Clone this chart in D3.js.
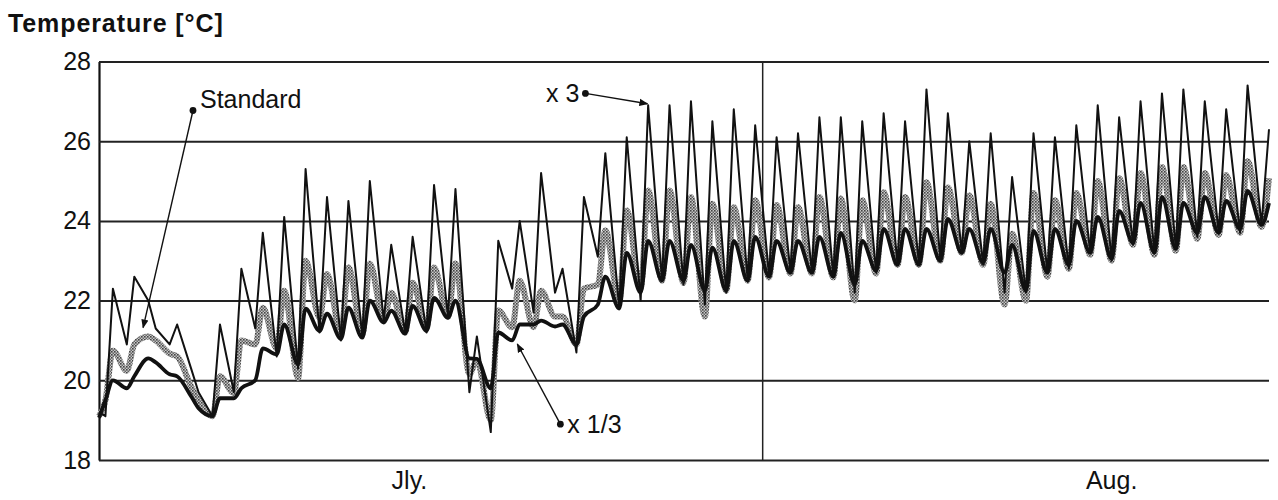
<!DOCTYPE html>
<html>
<head>
<meta charset="utf-8">
<script src="https://cdn.jsdelivr.net/npm/d3@7.9.0/dist/d3.min.js"></script>
<style>
  body { margin: 0; background: #fff; }
  svg { font-family: "Liberation Sans", Arial, Helvetica, sans-serif; }
</style>
</head>
<body>
<svg id="chart" width="1278" height="500"></svg>
<script>
// day 0 = 1 July. Each day is sampled twice: morning low and afternoon high.
const yTicks = [18, 20, 22, 24, 26, 28];
const months = [{ label: "Jly.", day: 14.5 }, { label: "Aug.", day: 47.3 }];
const augustStart = 31;
const lastDay = 54.65;

const startValues = { x3: 19.2, standard: 19.1, third: 19.06 };

const x3Low = [
  19.1, 20.9, 22.0, 20.9, 20.3, 19.1, 19.7, 21.3, 20.6, 20.3,
  21.2, 21.0, 21.1, 21.5, 21.2, 21.2, 21.6, 19.7, 18.7, 22.3,
  21.7, 22.2, 20.7, 23.1, 21.8, 22.0, 22.5, 22.4, 21.9, 22.2,
  22.5, 22.6, 22.7, 22.7, 22.6, 22.2, 22.7, 22.9, 22.9, 23.0,
  23.2, 22.9, 22.2, 22.2, 22.7, 22.8, 23.2, 23.0, 23.4, 23.2,
  23.3, 23.6, 23.7, 23.7, 23.9
];
const x3High = [
  22.3, 22.6, 21.3, 21.4, 19.7, 21.4, 22.8, 23.7, 24.1, 25.3,
  24.6, 24.5, 25.0, 23.4, 23.6, 24.9, 24.8, 21.1, 23.5, 24.0,
  25.2, 22.8, 24.6, 25.7, 26.1, 26.9, 26.9, 27.0, 26.5, 26.8,
  26.4, 26.1, 26.2, 26.6, 26.6, 26.5, 26.7, 26.5, 27.3, 26.7,
  26.0, 26.2, 25.1, 26.2, 26.1, 26.4, 26.9, 26.6, 27.0, 27.2,
  27.3, 27.0, 26.8, 27.4, 26.3
];

const standardLow = [
  19.5, 20.24, 21.1, 20.67, 19.85, 19.1, 19.68, 20.9, 20.8, 20.06,
  21.57, 21.17, 21.15, 21.5, 21.2, 21.3, 21.6, 20.16, 19.0, 21.33,
  21.33, 21.6, 20.9, 22.4, 22.0, 22.3, 22.5, 22.45, 21.6, 22.25,
  22.5, 22.58, 22.68, 22.68, 22.58, 22.0, 22.68, 22.9, 22.9, 23.0,
  23.2, 22.9, 21.9, 22.0, 22.6, 22.8, 23.15, 23.0, 23.4, 23.15,
  23.25, 23.55, 23.65, 23.7, 23.85
];
const standardHigh = [
  20.74, 20.9, 21.0, 20.6, 19.5, 20.1, 21.0, 21.82, 22.25, 23.0,
  22.67, 22.83, 22.93, 22.2, 22.45, 22.83, 22.93, 20.5, 21.75, 22.5,
  22.25, 21.6, 22.3, 23.76, 24.26, 24.76, 24.76, 24.6, 24.43, 24.34,
  24.52, 24.4, 24.34, 24.6, 24.56, 24.52, 24.72, 24.6, 24.97, 24.84,
  24.64, 24.43, 23.68, 24.7, 24.52, 24.7, 25.0, 25.07, 25.2, 25.35,
  25.35, 25.2, 25.15, 25.5, 25.07
];

const thirdLow = [
  19.5, 19.8, 20.55, 20.15, 19.6, 19.1, 19.55, 20.0, 20.65, 20.4,
  21.24, 21.04, 21.07, 21.45, 21.17, 21.24, 21.57, 20.55, 19.8, 21.0,
  21.4, 21.35, 20.9, 21.9, 21.8, 22.2, 22.5, 22.5, 22.25, 22.25,
  22.5, 22.6, 22.7, 22.7, 22.6, 22.4, 22.75, 22.9, 22.9, 23.0,
  23.2, 22.95, 22.7, 22.25, 22.7, 22.9, 23.2, 23.05, 23.45, 23.2,
  23.3, 23.7, 23.7, 23.8, 23.9
];
const thirdHigh = [
  20.0, 20.1, 20.45, 20.1, 19.3, 19.55, 19.8, 20.8, 21.4, 21.8,
  21.67, 21.82, 22.0, 21.75, 21.87, 22.07, 22.0, 20.54, 21.2, 21.4,
  21.5, 21.4, 21.6, 22.6, 23.2, 23.5, 23.5, 23.4, 23.33, 23.5,
  23.6, 23.5, 23.5, 23.6, 23.7, 23.5, 23.8, 23.8, 23.8, 24.05,
  23.8, 23.8, 23.4, 23.75, 23.8, 24.0, 24.1, 24.25, 24.45, 24.6,
  24.45, 24.6, 24.5, 24.75, 24.45
];

const annotations = [
  { label: "Standard", dot: [4.39, 26.77], tip: [2.06, 21.32], side: "right" },
  { label: "x 3", dot: [22.72, 27.2], tip: [25.62, 26.94], side: "left" },
  { label: "x 1/3", dot: [21.55, 18.9], tip: [19.54, 20.91], side: "right" }
];

const lowTime = 0.3, highTime = 0.65;

function toPoints(start, lows, highs) {
  let pts = [{ day: 0, value: start }];
  lows.forEach((lo, i) => {
    pts.push({ day: i + lowTime, value: lo });
    pts.push({ day: i + highTime, value: highs[i] });
  });
  return pts;
}

const svg = d3.select("#chart");
const plotLeft = 99, plotRight = 1269, plotTop = 61.5, plotBottom = 460;

const x = d3.scaleLinear().domain([0, lastDay]).range([plotLeft, plotRight]);
const y = d3.scaleLinear().domain([18, 28]).range([plotBottom, plotTop]);

// halftone pattern for the "Standard" line
const defs = svg.append("defs");
const pat = defs.append("pattern")
  .attr("id", "halftone")
  .attr("width", 3).attr("height", 3)
  .attr("patternUnits", "userSpaceOnUse");
pat.append("rect").attr("width", 3).attr("height", 3).attr("fill", "#c8c8c8");
pat.append("rect").attr("width", 1.6).attr("height", 1.6).attr("fill", "#444");
pat.append("rect").attr("x", 1.5).attr("y", 1.5).attr("width", 1.5).attr("height", 1.5).attr("fill", "#666");

defs.append("marker")
  .attr("id", "arrow")
  .attr("viewBox", "0 0 10 10")
  .attr("refX", 9).attr("refY", 5)
  .attr("markerWidth", 9).attr("markerHeight", 9)
  .attr("markerUnits", "userSpaceOnUse")
  .attr("orient", "auto")
  .append("path")
  .attr("d", "M0,1 L10,5 L0,9 Z")
  .attr("fill", "#111");

// grid + left axis
const yAxis = d3.axisLeft(y)
  .tickValues(yTicks)
  .tickSize(-(plotRight - plotLeft))
  .tickSizeOuter(0)
  .tickPadding(8)
  .tickFormat(d3.format("d"));

const gAxis = svg.append("g")
  .attr("transform", `translate(${plotLeft},0)`)
  .call(yAxis);
gAxis.select(".domain").attr("stroke", "#111").attr("stroke-width", 2.2);
gAxis.selectAll(".tick line").attr("stroke", "#222").attr("stroke-width", 2);
gAxis.selectAll(".tick text")
  .attr("fill", "#111")
  .style("font-size", "25px");

// July / August divider
svg.append("line")
  .attr("x1", x(augustStart)).attr("x2", x(augustStart))
  .attr("y1", y(18)).attr("y2", y(28))
  .attr("stroke", "#222").attr("stroke-width", 1.5);

// month labels
svg.selectAll(".month")
  .data(months)
  .enter()
  .append("text")
  .attr("class", "month")
  .attr("x", d => x(d.day))
  .attr("y", 489)
  .attr("text-anchor", "middle")
  .style("font-size", "25px")
  .attr("fill", "#111")
  .text(d => d.label);

// title
svg.append("text")
  .attr("x", 8).attr("y", 32)
  .style("font-size", "25px")
  .style("font-weight", "bold")
  .style("letter-spacing", "0.9px")
  .attr("fill", "#111")
  .text("Temperature [°C]");

const smooth = d3.line()
  .x(d => x(d.day))
  .y(d => y(d.value))
  .curve(d3.curveMonotoneX);
const sharp = d3.line()
  .x(d => x(d.day))
  .y(d => y(d.value));

const series = [
  { pts: toPoints(startValues.standard, standardLow, standardHigh), gen: smooth, stroke: "url(#halftone)", width: 6 },
  { pts: toPoints(startValues.third, thirdLow, thirdHigh), gen: smooth, stroke: "#111", width: 3.8 },
  { pts: toPoints(startValues.x3, x3Low, x3High), gen: sharp, stroke: "#111", width: 2 }
];

svg.selectAll(".series")
  .data(series)
  .enter()
  .append("path")
  .attr("class", "series")
  .attr("d", d => d.gen(d.pts))
  .attr("fill", "none")
  .attr("stroke", d => d.stroke)
  .attr("stroke-width", d => d.width)
  .attr("stroke-linejoin", "round");

// callouts
const notes = svg.selectAll(".note")
  .data(annotations)
  .enter()
  .append("g")
  .attr("class", "note");

notes.append("line")
  .attr("x1", d => x(d.dot[0])).attr("y1", d => y(d.dot[1]))
  .attr("x2", d => x(d.tip[0])).attr("y2", d => y(d.tip[1]))
  .attr("stroke", "#111").attr("stroke-width", 1.4)
  .attr("marker-end", "url(#arrow)");

notes.append("circle")
  .attr("cx", d => x(d.dot[0])).attr("cy", d => y(d.dot[1]))
  .attr("r", 3.4).attr("fill", "#111");

notes.append("text")
  .attr("x", d => x(d.dot[0]) + (d.side === "right" ? 7 : -6))
  .attr("y", d => y(d.dot[1]))
  .attr("dy", d => d.label === "Standard" ? "-0.1em" : "0.36em")
  .attr("text-anchor", d => d.side === "right" ? "start" : "end")
  .style("font-size", "25px")
  .attr("fill", "#111")
  .text(d => d.label);
</script>
</body>
</html>
